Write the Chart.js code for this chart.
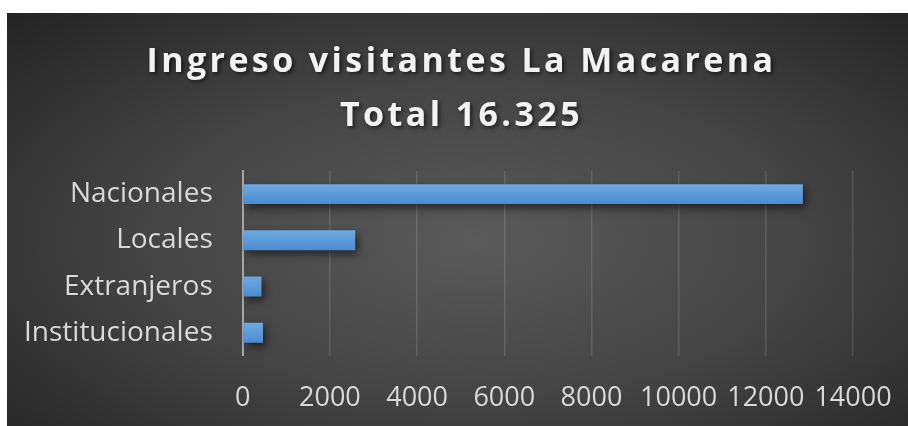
<!DOCTYPE html>
<html>
<head>
<meta charset="utf-8">
<script src="https://cdn.jsdelivr.net/npm/chart.js@4"></script>
<style>
  body { margin: 0; background: #fff; }
  #box {
    position: absolute; left: 7px; top: 13px; width: 901px; height: 413px;
    background: radial-gradient(ellipse farthest-corner at 52% 55%, #5a5a5a 0%, #444 50%, #232323 100%);
  }
</style>
</head>
<body>
<div id="box"><canvas id="visitantes" width="901" height="413"></canvas></div>
<script>
var categorias = ["Nacionales", "Locales", "Extranjeros", "Institucionales"];
var visitantes = [12850, 2580, 430, 465];
var titulo = ["Ingreso visitantes La Macarena", "Total 16.325"];

// soft drop shadow under the bars
var sombra = {
    id: "sombra",
    beforeDatasetsDraw: function (chart) {
        var ctx = chart.ctx;
        ctx.save();
        ctx.shadowColor = "rgba(0,0,0,0.55)";
        ctx.shadowBlur = 8;
        ctx.shadowOffsetX = 3;
        ctx.shadowOffsetY = 4;
    },
    afterDatasetsDraw: function (chart) {
        chart.ctx.restore();
    }
};

// spaced-out title with a shadow (the built-in title has no letter spacing)
var tituloEspaciado = {
    id: "tituloEspaciado",
    afterDraw: function (chart) {
        var ctx = chart.ctx;
        ctx.save();
        ctx.font = "bold 34px 'Open Sans'";
        ctx.letterSpacing = "3.4px";
        ctx.fillStyle = "#f2f2f2";
        ctx.textAlign = "center";
        ctx.textBaseline = "alphabetic";
        ctx.shadowColor = "rgba(0,0,0,0.6)";
        ctx.shadowBlur = 4;
        ctx.shadowOffsetX = 2;
        ctx.shadowOffsetY = 2;
        ctx.fillText(titulo[0], chart.width / 2 + 4, 59);
        ctx.fillText(titulo[1], chart.width / 2 + 4, 113);
        ctx.restore();
    }
};

// light-to-dark vertical shading on each bar
function colorBarra(c) {
    var chart = c.chart;
    var yScale = chart.scales.y;
    if (!chart.chartArea || !yScale || c.dataIndex === undefined) return "#5592d6";
    var centro = yScale.getPixelForValue(c.dataIndex);
    var mitad = yScale.height / categorias.length * 0.8 * 0.54 / 2;
    var g = chart.ctx.createLinearGradient(0, centro - mitad, 0, centro + mitad);
    g.addColorStop(0, "#6fa9e2");
    g.addColorStop(1, "#4a8cd2");
    return g;
}

new Chart("visitantes", {
    type: "bar",
    data: {
        labels: categorias,
        datasets: [{
            data: visitantes,
            backgroundColor: colorBarra,
            barPercentage: 0.54,
            categoryPercentage: 0.8
        }]
    },
    plugins: [sombra, tituloEspaciado],
    options: {
        indexAxis: "y",
        responsive: false,
        animation: false,
        layout: {
            padding: { left: -13, right: 55, top: 158, bottom: -15 }
        },
        plugins: {
            legend: { display: false },
            tooltip: { enabled: false }
        },
        scales: {
            x: {
                min: 0,
                max: 14000,
                ticks: {
                    stepSize: 2000,
                    color: "#d9d9d9",
                    autoSkip: false,
                    maxRotation: 0,
                    padding: 0,
                    font: { family: "Open Sans", size: 27, lineHeight: 3.15 },
                    callback: function (v) { return String(v); }
                },
                grid: {
                    color: "rgba(255,255,255,0.13)",
                    lineWidth: 1.5,
                    drawTicks: false
                },
                border: { display: false }
            },
            y: {
                ticks: {
                    color: "#d9d9d9",
                    padding: 30,
                    font: { family: "Open Sans", size: 28 }
                },
                grid: { display: false, drawTicks: false },
                border: { color: "#a6a6a6", width: 2 }
            }
        }
    }
});
</script>
</body>
</html>
